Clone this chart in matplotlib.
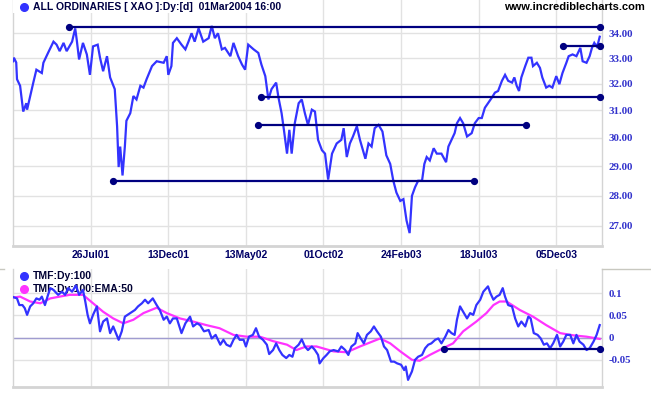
import matplotlib
matplotlib.use("Agg")
import matplotlib.pyplot as plt
from matplotlib.lines import Line2D
from matplotlib.patches import Rectangle
from matplotlib.ticker import NullLocator, FixedLocator, FixedFormatter

# ---------------- data (trading-day index, values) ----------------
price_days = [0, 1, 4, 5, 9, 13, 17, 18, 22, 26, 30, 37, 39, 45, 52, 56, 60, 65, 69, 76,
              80, 82, 85, 90, 95, 99, 103, 109, 112, 116, 121, 125, 131, 134, 136, 138, 141, 144, 146, 151,
              155, 159, 164, 168, 172, 179, 185, 194, 198, 200, 204, 206, 211, 217, 222, 226, 230, 234, 239, 245,
              252, 256, 260, 264, 269, 273, 280, 284, 290, 295, 299, 303, 310, 316, 320, 325, 329, 333, 339, 342,
              346, 349, 353, 356, 359, 363, 368, 372, 376, 380, 385, 389, 393, 398, 402, 406, 411, 417, 423, 426,
              430, 434, 438, 443, 447, 454, 458, 462, 466, 471, 476, 481, 486, 490, 494, 499, 503, 507, 511, 514,
              518, 522, 527, 530, 533, 537, 542, 546, 552, 558, 561, 565, 569, 572, 576, 580, 585, 591, 595, 600,
              604, 608, 612, 617, 621, 625, 630, 634, 638, 643, 646, 649, 652, 655, 660, 664, 668, 670, 675, 679,
              682, 687, 691, 695, 700, 704, 708, 713, 716, 721, 726, 731, 734, 739, 743, 746, 749, 752, 754, 756]
price_vals = [32.88, 33.02, 32.83, 32.18, 31.93, 30.96, 31.27, 31.03, 31.54, 32.05, 32.55, 32.42, 32.82, 33.21, 33.66, 33.54, 33.28, 33.61, 33.28, 33.66,
              34.20, 33.73, 32.95, 33.61, 33.15, 32.35, 33.47, 33.54, 33.02, 32.49, 33.08, 32.25, 31.80, 30.42, 28.97, 29.69, 28.68, 29.69, 30.62, 30.90,
              31.54, 31.41, 31.93, 31.86, 32.18, 32.69, 32.88, 32.82, 33.08, 32.35, 32.69, 33.61, 33.80, 33.54, 33.35, 33.66, 34.00, 33.66, 34.20, 33.66,
              33.80, 34.30, 33.80, 34.00, 33.35, 33.41, 33.08, 33.61, 33.08, 32.75, 32.55, 33.54, 33.35, 33.21, 32.75, 32.30, 31.41, 31.80, 32.05, 31.48,
              30.90, 30.29, 29.44, 30.29, 29.44, 30.53, 31.27, 31.41, 30.90, 30.47, 31.03, 30.96, 29.93, 29.56, 29.44, 28.54, 29.44, 29.80, 29.93, 30.35,
              29.32, 29.80, 30.05, 30.42, 29.93, 29.26, 29.80, 29.69, 30.35, 30.47, 30.23, 29.38, 29.08, 28.50, 28.10, 27.82, 27.88, 27.18, 26.77, 27.99,
              28.28, 28.50, 28.50, 29.08, 29.32, 29.20, 29.63, 29.44, 29.44, 29.14, 29.69, 29.93, 30.17, 30.53, 30.72, 30.53, 30.05, 30.17, 30.53, 30.72,
              30.72, 31.10, 31.27, 31.48, 31.67, 31.73, 32.12, 32.35, 32.12, 32.05, 32.25, 31.93, 31.73, 32.25, 32.69, 33.02, 33.02, 32.69, 32.82, 32.62,
              32.25, 31.86, 31.93, 31.86, 32.30, 31.99, 32.42, 32.82, 33.08, 33.15, 33.08, 33.41, 32.88, 32.82, 33.08, 33.41, 33.61, 33.47, 33.61, 33.86]

# trend lines on price panel: (start day, end day, level)
line_starts = [72, 320, 316, 129, 709]
line_ends = [757, 757, 661, 594, 757]
line_levels = [34.26, 31.52, 30.48, 28.48, 33.50]

tmf_days = [0, 5, 8, 12, 15, 18, 22, 26, 30, 34, 37, 41, 45, 48, 52, 58, 63, 67, 71, 76,
            81, 85, 90, 93, 96, 99, 103, 108, 112, 116, 121, 125, 129, 136, 140, 144, 151, 157, 161, 166,
            170, 174, 180, 185, 189, 194, 198, 202, 206, 211, 217, 222, 228, 232, 237, 241, 246, 252, 256, 261,
            267, 271, 275, 280, 284, 288, 292, 297, 300, 304, 309, 313, 317, 322, 327, 330, 335, 339, 343, 347,
            352, 356, 360, 363, 368, 372, 376, 380, 385, 389, 393, 395, 400, 404, 408, 413, 419, 423, 428, 432,
            436, 441, 444, 448, 452, 456, 461, 465, 469, 474, 478, 482, 487, 491, 495, 500, 504, 506, 509, 514,
            518, 522, 527, 531, 535, 539, 544, 548, 552, 557, 561, 565, 569, 572, 576, 580, 585, 589, 593, 597,
            602, 606, 612, 615, 619, 623, 627, 631, 634, 638, 643, 647, 651, 655, 660, 664, 667, 671, 676, 680,
            684, 688, 692, 696, 701, 705, 709, 713, 718, 722, 726, 730, 735, 739, 743, 748, 752, 756]
tmf_vals = [0.091, 0.088, 0.073, 0.073, 0.066, 0.051, 0.070, 0.077, 0.088, 0.085, 0.092, 0.073, 0.096, 0.111, 0.107, 0.096, 0.103, 0.096, 0.111, 0.103,
            0.117, 0.096, 0.107, 0.081, 0.051, 0.032, 0.051, 0.070, 0.014, 0.036, 0.043, 0.010, 0.025, -0.005, 0.014, 0.047, 0.055, 0.062, 0.070, 0.077,
            0.085, 0.077, 0.088, 0.073, 0.062, 0.040, 0.047, 0.032, 0.043, 0.043, 0.010, 0.032, 0.047, 0.025, 0.032, 0.028, 0.014, 0.017, -0.002, 0.006,
            -0.016, -0.005, -0.016, -0.020, -0.005, 0.006, -0.005, -0.005, -0.020, 0.002, 0.006, 0.021, 0.002, -0.005, -0.016, -0.037, -0.028, -0.013, -0.028, -0.039,
            -0.046, -0.039, -0.043, -0.024, -0.016, -0.004, -0.020, -0.028, -0.020, -0.028, -0.039, -0.058, -0.046, -0.039, -0.031, -0.028, -0.031, -0.020, -0.028, -0.039,
            -0.020, -0.013, 0.010, -0.002, -0.013, 0.006, 0.014, 0.025, 0.014, 0.002, -0.020, -0.028, -0.054, -0.054, -0.058, -0.061, -0.073, -0.065, -0.095, -0.076,
            -0.050, -0.043, -0.039, -0.024, -0.016, -0.013, -0.005, -0.002, -0.013, 0.002, 0.017, 0.010, 0.006, 0.040, 0.070, 0.058, 0.043, 0.055, 0.051, 0.073,
            0.085, 0.103, 0.115, 0.100, 0.085, 0.092, 0.096, 0.111, 0.092, 0.073, 0.070, 0.043, 0.025, 0.036, 0.025, 0.047, 0.043, 0.010, 0.006, -0.002,
            -0.016, -0.013, -0.024, -0.013, 0.006, -0.020, -0.009, 0.006, 0.006, -0.013, 0.006, -0.009, -0.016, -0.028, -0.024, -0.009, 0.006, 0.028]

ema_days = [0, 9, 22, 35, 48, 60, 73, 90, 103, 116, 129, 142, 155, 168, 185, 198, 215, 232, 249, 266,
            284, 301, 318, 335, 353, 365, 378, 391, 413, 430, 447, 460, 473, 486, 499, 514, 524, 537, 554, 567,
            580, 597, 610, 619, 627, 636, 653, 670, 687, 705, 722, 739, 756]
ema_vals = [0.090, 0.092, 0.081, 0.077, 0.088, 0.092, 0.096, 0.096, 0.077, 0.058, 0.043, 0.032, 0.040, 0.055, 0.067, 0.055, 0.043, 0.036, 0.028, 0.021,
            0.006, 0.002, 0.002, -0.008, -0.016, -0.028, -0.020, -0.020, -0.031, -0.033, -0.020, -0.011, -0.002, -0.013, -0.031, -0.050, -0.052, -0.039, -0.024, -0.013,
            0.014, 0.036, 0.055, 0.073, 0.081, 0.081, 0.062, 0.047, 0.028, 0.010, 0.005, 0.002, -0.003]

tmf_line_start, tmf_line_end, tmf_line_level = 555, 757, -0.0255

tick_days = [100, 200, 300, 400, 500, 600, 700]
tick_labels = ['26Jul01', '13Dec01', '13May02', '01Oct02', '24Feb03', '18Jul03', '05Dec03']
price_ticks = [27, 28, 29, 30, 31, 32, 33, 34]
tmf_ticks = [-0.05, 0, 0.05, 0.1]
tmf_tick_labels = ['-0.05', '0', '0.05', '0.1']

# ---------------- styling ----------------
BLUE = '#3333ff'
NAVY = '#000080'
MAGENTA = '#ff33ff'
GRID = '#e2e2e2'
SPINE = '#d4d4d4'
LABEL_BLUE = '#3333cc'
W, H = 651, 395

fig = plt.figure(figsize=(W / 100, H / 100), dpi=100)
fig.patch.set_facecolor('white')

ax1 = fig.add_axes([12.5 / W, (H - 246) / H, 589 / W, 246 / H])
ax2 = fig.add_axes([12.5 / W, 8 / H, 589 / W, 118 / H])

serif_bold = dict(family='Liberation Serif', weight='bold', size=7.8)
sans_bold = dict(family='Liberation Sans', weight='bold', size=7.5)

for ax in (ax1, ax2):
    ax.set_xlim(-0.8, 758.3)
    ax.xaxis.set_major_locator(FixedLocator(tick_days))
    ax.grid(True, color=GRID, lw=1.0, zorder=0)
    ax.set_axisbelow(True)
    ax.spines['top'].set_visible(False)
    for s in ('left', 'right'):
        ax.spines[s].set_color(SPINE)
        ax.spines[s].set_linewidth(1.0)
    ax.spines['bottom'].set_color(SPINE)
    ax.spines['bottom'].set_linewidth(2.0)
    ax.yaxis.tick_right()
    ax.tick_params(axis='both', length=0)
    ax.tick_params(axis='y', pad=5, labelcolor=LABEL_BLUE)

# ----- price panel -----
ax1.set_yscale('log')
ax1.set_ylim(26.36, 35.38)
ax1.yaxis.set_major_locator(FixedLocator(price_ticks))
ax1.yaxis.set_major_formatter(FixedFormatter([f'{v:.2f}' for v in price_ticks]))
ax1.yaxis.set_minor_locator(NullLocator())
for lab in ax1.get_yticklabels():
    lab.set_fontproperties(matplotlib.font_manager.FontProperties(**serif_bold))
ax1.xaxis.set_major_formatter(FixedFormatter(tick_labels))
ax1.tick_params(axis='x', pad=3, labelcolor='#000066')
for lab in ax1.get_xticklabels():
    lab.set_fontproperties(matplotlib.font_manager.FontProperties(**sans_bold))

ax1.plot(price_days, price_vals, color=BLUE, lw=1.6, zorder=3, solid_joinstyle='miter')
for x0, x1, lv in zip(line_starts, line_ends, line_levels):
    ax1.plot([x0, x1], [lv, lv], color=NAVY, lw=1.6, marker='o', ms=4.2, zorder=4, clip_on=False)

# ----- TMF panel -----
ax2.set_ylim(-0.111, 0.154)
ax2.yaxis.set_major_locator(FixedLocator(tmf_ticks))
ax2.yaxis.set_major_formatter(FixedFormatter(tmf_tick_labels))
for lab in ax2.get_yticklabels():
    lab.set_fontproperties(matplotlib.font_manager.FontProperties(**serif_bold))
ax2.xaxis.set_major_formatter(FixedFormatter([''] * len(tick_days)))
ax2.axhline(0, color='#a09cd0', lw=1.0, zorder=1)
ax2.plot(ema_days, ema_vals, color=MAGENTA, lw=1.6, zorder=3)
ax2.plot(tmf_days, tmf_vals, color=BLUE, lw=1.6, zorder=3)
ax2.plot([tmf_line_start, tmf_line_end], [tmf_line_level, tmf_line_level], color=NAVY, lw=1.6,
         marker='o', ms=4.2, zorder=4, clip_on=False)

# legend of TMF panel (under the lines)
lx_dot = (24 - 12.5) / 589
lx_txt = (33 - 12.5) / 589
for yy, col, txt in [(276, BLUE, 'TMF:Dy:100'), (289, MAGENTA, 'TMF:Dy:100:EMA:50')]:
    fy = (387 - yy) / 118
    ax2.plot([lx_dot], [fy], marker='o', ms=5.5, color=col, transform=ax2.transAxes, zorder=2, clip_on=False)
    ax2.text(lx_txt, fy, txt, transform=ax2.transAxes, va='center', ha='left', color='#000033',
             zorder=2, **sans_bold)

# ----- header -----
fig.add_artist(Rectangle((12.5 / W, 1 - 13 / H), (300 - 12.5) / W, 13 / H, transform=fig.transFigure,
                         facecolor='white', edgecolor='none', zorder=1))
fig.add_artist(Line2D([24 / W], [1 - 7 / H], marker='o', ms=5.5, color=BLUE, transform=fig.transFigure, zorder=2))
fig.text(33 / W, 1 - 7 / H, 'ALL ORDINARIES [ XAO ]:Dy:[d]  01Mar2004 16:00', ha='left', va='center',
         color='#000044', zorder=2, **sans_bold)
fig.text(645 / W, 1 - 7 / H, 'www.incrediblecharts.com', ha='right', va='center', color='black',
         family='Liberation Sans', weight='bold', size=8, zorder=2)

# panel separator lines outside the plot area
fig.add_artist(Line2D([601.5 / W, 1.0], [1 - 269 / H, 1 - 269 / H], color='#c8c8c0', lw=1.0, transform=fig.transFigure))
fig.add_artist(Line2D([0, 4 / W], [1 - 269 / H, 1 - 269 / H], color='#c8c8c0', lw=1.0, transform=fig.transFigure))

fig.savefig('out.png', dpi=100)
